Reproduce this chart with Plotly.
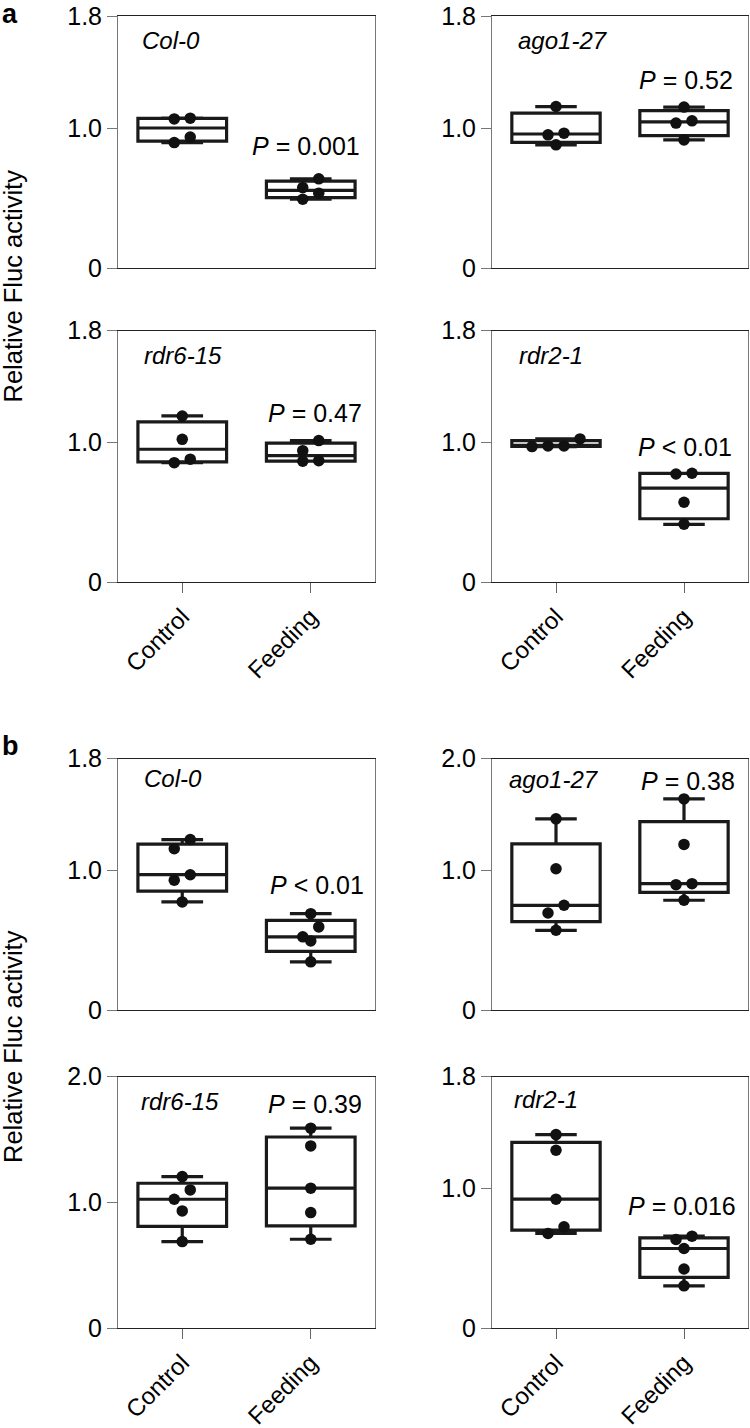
import numpy as np
import plotly.graph_objects as go

groups = ["Control", "Feeding"]
genotypes = ["Col-0", "ago1-27", "rdr6-15", "rdr2-1"]

# panel a: 4 replicates each
a_control = [
    [1.071, 1.066, 0.897, 0.936],
    [1.154, 0.964, 0.952, 0.881],
    [1.190, 1.023, 0.856, 0.881],
    [0.976, 0.971, 0.976, 1.026],
]
a_feeding = [
    [0.638, 0.576, 0.536, 0.493],
    [1.150, 1.052, 1.036, 0.916],
    [1.014, 0.942, 0.870, 0.866],
    [0.775, 0.780, 0.573, 0.415],
]
a_pvals = ["= 0.001", "= 0.52", "= 0.47", "&lt; 0.01"]

# panel b: 5 replicates each
b_control = [
    [1.221, 1.155, 0.969, 0.929, 0.774],
    [1.369, 1.012, 0.750, 0.695, 0.571],
    [1.206, 1.100, 1.026, 0.933, 0.689],
    [1.386, 1.274, 0.924, 0.726, 0.679],
]
b_feeding = [
    [0.690, 0.595, 0.524, 0.495, 0.345],
    [1.512, 1.186, 0.905, 0.898, 0.786],
    [1.591, 1.450, 1.114, 0.920, 0.708],
    [0.659, 0.636, 0.571, 0.424, 0.304],
]
b_pvals = ["&lt; 0.01", "= 0.38", "= 0.39", "= 0.016"]

y_max = [1.8, 1.8, 1.8, 1.8, 1.8, 1.8, 2.0, 1.8]
y_top_label = ["1.8", "1.8", "1.8", "1.8", "1.8", "2.0", "2.0", "1.8"]

# label placement (data coords of each panel)
p_pos = [(0.965, 0.869), (1.014, 1.345), (1.033, 1.21), (1.008, 0.969),
         (1.046, 0.893), (1.031, 1.643), (1.031, 1.783), (0.984, 0.877)]
g_pos = [(-0.329, 1.627), (-0.315, 1.624), (-0.316, 1.625), (-0.307, 1.625),
         (-0.316, 1.657), (-0.385, 1.652), (-0.334, 1.799), (-0.346, 1.634)]

W, H = 750, 1428
col_px = [(118, 375), (492, 748)]
row_px = [(16, 268.3), (330.7, 582.3), (758.7, 1010), (1076.7, 1328.3)]
FONT = "Liberation Sans, Arial, Helvetica, sans-serif"


def row_offsets(vals, px_y, px_x, gap=11, spacing=16):
    # Prism-like scatter: points at nearly the same level share a row
    vals = np.asarray(vals)
    offs = np.zeros(len(vals))
    order = np.argsort(vals)[::-1]

    def flush(g):
        g = sorted(g, key=lambda i: vals[i])
        k = len(g)
        for j, i in enumerate(g):
            offs[i] = (j - (k - 1) / 2) * spacing / px_x

    grp = []
    for i in order:
        if grp and (vals[grp[0]] - vals[i]) * px_y > gap:
            flush(grp)
            grp = []
        grp.append(i)
    flush(grp)
    return offs


controls = a_control + b_control
feedings = a_feeding + b_feeding
pvals = a_pvals + b_pvals
fig = go.Figure()
annotations = []

for k in range(8):
    n = k + 1
    xa = "x" if n == 1 else f"x{n}"
    ya = "y" if n == 1 else f"y{n}"
    r, c = k // 2, k % 2
    x0, x1 = col_px[c]
    top, bot = row_px[r]
    px_x = (x1 - x0) / 2.0
    px_y = (bot - top) / y_max[k]

    for pos, vals in enumerate([controls[k], feedings[k]]):
        q1, med, q3 = np.percentile(vals, [25, 50, 75], method="weibull")
        fig.add_trace(go.Box(
            x=[pos], q1=[q1], median=[med], q3=[q3],
            lowerfence=[min(vals)], upperfence=[max(vals)],
            orientation="v", width=0.69, whiskerwidth=0.47,
            fillcolor="white", line=dict(color="#1a1a1a", width=3.2),
            boxpoints=False, showlegend=False, hoverinfo="skip",
            xaxis=xa, yaxis=ya))
        offs = row_offsets(vals, px_y, px_x)
        fig.add_trace(go.Scatter(
            x=pos + offs, y=vals, mode="markers",
            marker=dict(color="#111111", size=11.5),
            showlegend=False, xaxis=xa, yaxis=ya))

    bottom_row = r in (1, 3)
    fig.layout[f"xaxis{'' if n == 1 else n}"] = dict(
        domain=[x0 / W, x1 / W], anchor=ya, range=[-0.5, 1.5],
        tickvals=[0, 1] if bottom_row else [], ticktext=groups,
        showticklabels=bottom_row, ticks="outside" if bottom_row else "",
        ticklen=10, tickcolor="#666", tickangle=-45,
        tickfont=dict(size=24, color="black"), automargin=False,
        showline=True, linecolor="#222", linewidth=1, mirror=True,
        showgrid=False, zeroline=False)
    fig.layout[f"yaxis{'' if n == 1 else n}"] = dict(
        domain=[1 - bot / H, 1 - top / H], anchor=xa, range=[0, y_max[k]],
        tickvals=[0, 1, y_max[k]], ticktext=["0", "1.0", y_top_label[k]],
        ticks="outside", ticklen=10, tickcolor="#777", automargin=False,
        tickfont=dict(size=25, color="black"),
        showline=True, linecolor="#777", linewidth=1, mirror=True,
        showgrid=False, zeroline=False)

    annotations.append(dict(
        x=g_pos[k][0], y=g_pos[k][1], xref=xa, yref=ya,
        text=f"<i>{genotypes[k % 4]}</i>", showarrow=False,
        xanchor="left", yanchor="middle", font=dict(size=24, color="black")))
    annotations.append(dict(
        x=p_pos[k][0], y=p_pos[k][1], xref=xa, yref=ya,
        text=f"<i>P</i> {pvals[k]}", showarrow=False,
        xanchor="center", yanchor="middle", font=dict(size=25, color="black")))

for lab, yc in [("a", 14), ("b", 746)]:
    annotations.append(dict(
        x=0.0, y=1 - yc / H, xref="paper", yref="paper", text=f"<b>{lab}</b>",
        showarrow=False, xanchor="left", yanchor="middle",
        font=dict(size=27, color="black")))

for yc in [286.5, 1047]:
    annotations.append(dict(
        x=13 / W, y=1 - yc / H, xref="paper", yref="paper",
        text="Relative Fluc activity", textangle=-90, showarrow=False,
        xanchor="center", yanchor="middle", font=dict(size=25.5, color="black")))

fig.update_layout(
    width=W, height=H, margin=dict(l=0, r=0, t=0, b=0, autoexpand=False),
    paper_bgcolor="white", plot_bgcolor="white",
    font=dict(family=FONT, color="black"),
    annotations=annotations)

# the page body has a default 8px margin; remove it so the figure sits at 0,0
fig.write_html("out.html", config={"displayModeBar": False},
               post_script="document.body.style.margin='0';")
